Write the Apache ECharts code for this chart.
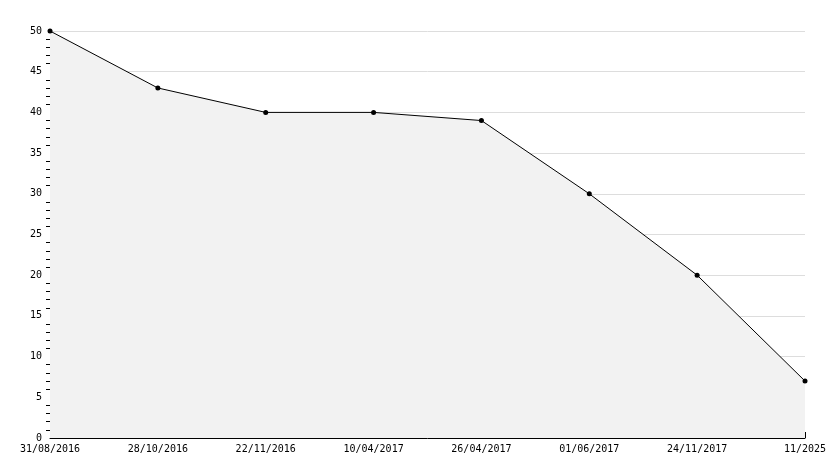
<!DOCTYPE html>
<html>
<head>
<meta charset="utf-8">
<script src="https://cdn.jsdelivr.net/npm/echarts@6/dist/echarts.min.js"></script>
<style>html,body{margin:0;padding:0;background:#fff}#c{width:834px;height:468px}</style>
</head>
<body>
<div id="c"></div>
<script>
var dates = ['31/08/2016', '28/10/2016', '22/11/2016', '10/04/2017', '26/04/2017', '01/06/2017', '24/11/2017', '11/2025']
var values = [50, 43, 40, 40, 39, 30, 20, 7]

var chart = echarts.init(document.getElementById('c'))
var font = { fontFamily: 'DejaVu Sans Mono', fontSize: 10, color: '#000' }

chart.setOption({
  animation: false,
  grid: { left: 50, right: 29, top: 31, bottom: 30 },
  xAxis: {
    type: 'category',
    data: dates,
    boundaryGap: false,
    axisLine: { lineStyle: { color: '#000' } },
    axisTick: { inside: true, length: 6, lineStyle: { color: '#000' } },
    axisLabel: Object.assign({ margin: 6, interval: 0 }, font),
    splitLine: { show: false }
  },
  yAxis: {
    type: 'value',
    min: 0,
    max: 50,
    interval: 5,
    axisLine: { show: true, lineStyle: { color: '#000' } },
    axisTick: { length: 4, lineStyle: { color: '#000' } },
    minorTick: { show: true, splitNumber: 5, length: 4, lineStyle: { color: '#000' } },
    axisLabel: Object.assign({ margin: 8 }, font),
    splitLine: { lineStyle: { color: '#ddd' } }
  },
  series: [{
    type: 'line',
    data: values,
    symbol: 'circle',
    symbolSize: 5,
    itemStyle: { color: '#000' },
    lineStyle: { color: '#000', width: 1 },
    areaStyle: { color: '#f2f2f2', opacity: 1 }
  }]
})
</script>
</body>
</html>
